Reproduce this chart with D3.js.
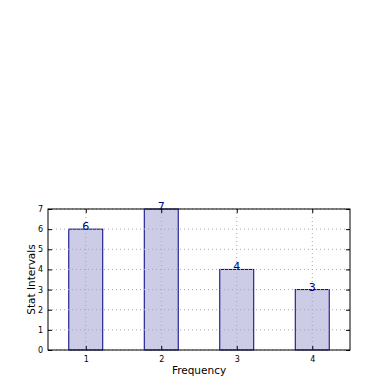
<!DOCTYPE html>
<html>
<head>
<meta charset="utf-8">
<script src="https://cdn.jsdelivr.net/npm/d3@7"></script>
<style>
  body { margin: 0; background: #fff; }
  text { font-family: "DejaVu Sans", sans-serif; }
</style>
</head>
<body>
<div id="chart"></div>
<script>
// chart data
var categories = [1, 2, 3, 4];
var values = [6, 7, 4, 3];
var yTicks = [0, 1, 2, 3, 4, 5, 6, 7];

// dimensions and margins
var margin = {top: 209, right: 40, bottom: 40, left: 48},
    width = 390 - margin.left - margin.right,
    height = 390 - margin.top - margin.bottom;

var svg = d3.select("#chart")
  .append("svg")
    .attr("width", 390)
    .attr("height", 390)
  .append("g")
    .attr("transform", "translate(" + margin.left + "," + margin.top + ")");

var x = d3.scaleLinear().domain([0.5, 4.5]).range([0, width]);
var y = d3.scaleLinear().domain([0, 7]).range([height, 0]);
var barW = 0.45;

// bars
svg.selectAll("rect.bar")
  .data(values)
  .enter()
  .append("rect")
    .attr("class", "bar")
    .attr("x", function(d, i) { return x(categories[i] - barW / 2); })
    .attr("y", function(d) { return y(d); })
    .attr("width", x(1 + barW) - x(1))
    .attr("height", function(d) { return height - y(d); })
    .style("fill", "rgba(0,0,128,0.2)")
    .style("stroke", "navy")
    .style("stroke-width", 1);

// grid (drawn above bars, like matplotlib)
svg.selectAll("line.hgrid")
  .data(yTicks)
  .enter()
  .append("line")
    .attr("x1", 0).attr("x2", width)
    .attr("y1", function(d) { return y(d); })
    .attr("y2", function(d) { return y(d); })
    .style("stroke", "#a8a8a8")
    .style("stroke-dasharray", "1,3")
    .style("stroke-width", 1);
svg.selectAll("line.vgrid")
  .data(categories)
  .enter()
  .append("line")
    .attr("y1", 0).attr("y2", height)
    .attr("x1", function(d) { return x(d); })
    .attr("x2", function(d) { return x(d); })
    .style("stroke", "#a8a8a8")
    .style("stroke-dasharray", "1,3")
    .style("stroke-width", 1);

// value labels
svg.selectAll("text.val")
  .data(values)
  .enter()
  .append("text")
    .attr("x", function(d, i) { return x(categories[i]); })
    .attr("y", function(d) { return y(d) + 1; })
    .attr("text-anchor", "middle")
    .style("font-size", "11px")
    .style("fill", "navy")
    .text(function(d) { return d; });

// axes with inward ticks
svg.append("g")
    .attr("transform", "translate(0," + height + ")")
    .call(d3.axisBottom(x).tickValues(categories).tickFormat(d3.format("d")).tickSize(-4).tickPadding(6));
svg.append("g")
    .call(d3.axisLeft(y).tickValues(yTicks).tickFormat(d3.format("d")).tickSize(-4).tickPadding(5));
svg.append("g")
    .attr("transform", "translate(" + width + ",0)")
    .call(d3.axisRight(y).tickValues(yTicks).tickFormat("").tickSize(-4));
svg.append("g")
    .call(d3.axisTop(x).tickValues(categories).tickFormat("").tickSize(-4));

svg.selectAll(".domain").remove();
svg.selectAll(".tick text").style("font-size", "8px").style("font-family", "DejaVu Sans");
svg.append("rect")
    .attr("width", width).attr("height", height)
    .style("fill", "none").style("stroke", "#000").style("stroke-width", 1);

// axis labels
svg.append("text")
    .attr("x", width / 2)
    .attr("y", height + 24)
    .attr("text-anchor", "middle")
    .style("font-size", "10.5px")
    .text("Frequency");
svg.append("text")
    .attr("transform", "rotate(-90)")
    .attr("x", -height / 2)
    .attr("y", -13)
    .attr("text-anchor", "middle")
    .style("font-size", "10.5px")
    .text("Stat Intervals");
</script>
</body>
</html>
